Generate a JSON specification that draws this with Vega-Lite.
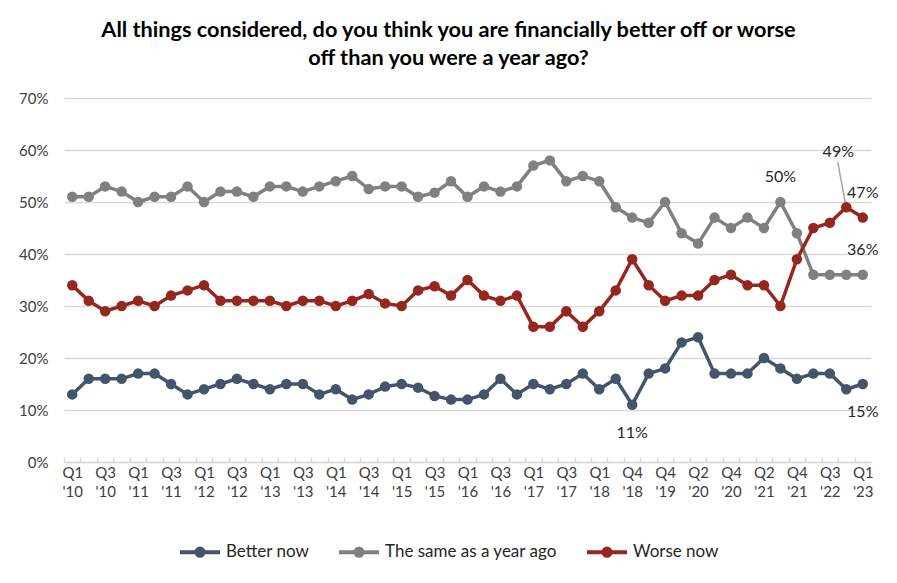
{
  "$schema": "https://vega.github.io/schema/vega-lite/v6.json",
  "autosize": {"type": "none"},
  "width": 807,
  "height": 364,
  "padding": {"left": 64, "top": 98, "right": 26, "bottom": 121},
  "background": "white",
  "config": {
    "view": {"stroke": null},
    "font": "Lato",
    "axis": {"labelFont": "Lato", "labelColor": "#404040"},
    "legend": {"labelFont": "Lato"}
  },
  "title": {
    "text": ["All things considered, do you think you are financially better off or worse", "off than you were a year ago?"],
    "font": "Lato",
    "fontSize": 21.7,
    "fontWeight": "bold",
    "color": "#000000",
    "lineHeight": 28,
    "anchor": "middle",
    "frame": "group",
    "dx": -19,
    "offset": 21
  },
  "data": {
    "values": [
      {"period": "Q1 '10", "series": "Better now", "value": 0.13},
      {"period": "Q2 '10", "series": "Better now", "value": 0.16},
      {"period": "Q3 '10", "series": "Better now", "value": 0.16},
      {"period": "Q4 '10", "series": "Better now", "value": 0.16},
      {"period": "Q1 '11", "series": "Better now", "value": 0.17},
      {"period": "Q2 '11", "series": "Better now", "value": 0.17},
      {"period": "Q3 '11", "series": "Better now", "value": 0.15},
      {"period": "Q4 '11", "series": "Better now", "value": 0.13},
      {"period": "Q1 '12", "series": "Better now", "value": 0.14},
      {"period": "Q2 '12", "series": "Better now", "value": 0.15},
      {"period": "Q3 '12", "series": "Better now", "value": 0.16},
      {"period": "Q4 '12", "series": "Better now", "value": 0.15},
      {"period": "Q1 '13", "series": "Better now", "value": 0.14},
      {"period": "Q2 '13", "series": "Better now", "value": 0.15},
      {"period": "Q3 '13", "series": "Better now", "value": 0.15},
      {"period": "Q4 '13", "series": "Better now", "value": 0.13},
      {"period": "Q1 '14", "series": "Better now", "value": 0.14},
      {"period": "Q2 '14", "series": "Better now", "value": 0.12},
      {"period": "Q3 '14", "series": "Better now", "value": 0.13},
      {"period": "Q4 '14", "series": "Better now", "value": 0.145},
      {"period": "Q1 '15", "series": "Better now", "value": 0.15},
      {"period": "Q2 '15", "series": "Better now", "value": 0.143},
      {"period": "Q3 '15", "series": "Better now", "value": 0.127},
      {"period": "Q4 '15", "series": "Better now", "value": 0.12},
      {"period": "Q1 '16", "series": "Better now", "value": 0.12},
      {"period": "Q2 '16", "series": "Better now", "value": 0.13},
      {"period": "Q3 '16", "series": "Better now", "value": 0.16},
      {"period": "Q4 '16", "series": "Better now", "value": 0.13},
      {"period": "Q1 '17", "series": "Better now", "value": 0.15},
      {"period": "Q2 '17", "series": "Better now", "value": 0.14},
      {"period": "Q3 '17", "series": "Better now", "value": 0.15},
      {"period": "Q4 '17", "series": "Better now", "value": 0.17},
      {"period": "Q1 '18", "series": "Better now", "value": 0.14},
      {"period": "Q3 '18", "series": "Better now", "value": 0.16},
      {"period": "Q4 '18", "series": "Better now", "value": 0.11},
      {"period": "Q2 '19", "series": "Better now", "value": 0.17},
      {"period": "Q4 '19", "series": "Better now", "value": 0.18},
      {"period": "Q1 '20", "series": "Better now", "value": 0.23},
      {"period": "Q2 '20", "series": "Better now", "value": 0.24},
      {"period": "Q3 '20", "series": "Better now", "value": 0.17},
      {"period": "Q4 '20", "series": "Better now", "value": 0.17},
      {"period": "Q1 '21", "series": "Better now", "value": 0.17},
      {"period": "Q2 '21", "series": "Better now", "value": 0.20},
      {"period": "Q3 '21", "series": "Better now", "value": 0.18},
      {"period": "Q4 '21", "series": "Better now", "value": 0.16},
      {"period": "Q2 '22", "series": "Better now", "value": 0.17},
      {"period": "Q3 '22", "series": "Better now", "value": 0.17},
      {"period": "Q4 '22", "series": "Better now", "value": 0.14},
      {"period": "Q1 '23", "series": "Better now", "value": 0.15},
      {"period": "Q1 '10", "series": "The same as a year ago", "value": 0.51},
      {"period": "Q2 '10", "series": "The same as a year ago", "value": 0.51},
      {"period": "Q3 '10", "series": "The same as a year ago", "value": 0.53},
      {"period": "Q4 '10", "series": "The same as a year ago", "value": 0.52},
      {"period": "Q1 '11", "series": "The same as a year ago", "value": 0.50},
      {"period": "Q2 '11", "series": "The same as a year ago", "value": 0.51},
      {"period": "Q3 '11", "series": "The same as a year ago", "value": 0.51},
      {"period": "Q4 '11", "series": "The same as a year ago", "value": 0.53},
      {"period": "Q1 '12", "series": "The same as a year ago", "value": 0.50},
      {"period": "Q2 '12", "series": "The same as a year ago", "value": 0.52},
      {"period": "Q3 '12", "series": "The same as a year ago", "value": 0.52},
      {"period": "Q4 '12", "series": "The same as a year ago", "value": 0.51},
      {"period": "Q1 '13", "series": "The same as a year ago", "value": 0.53},
      {"period": "Q2 '13", "series": "The same as a year ago", "value": 0.53},
      {"period": "Q3 '13", "series": "The same as a year ago", "value": 0.52},
      {"period": "Q4 '13", "series": "The same as a year ago", "value": 0.53},
      {"period": "Q1 '14", "series": "The same as a year ago", "value": 0.54},
      {"period": "Q2 '14", "series": "The same as a year ago", "value": 0.55},
      {"period": "Q3 '14", "series": "The same as a year ago", "value": 0.525},
      {"period": "Q4 '14", "series": "The same as a year ago", "value": 0.53},
      {"period": "Q1 '15", "series": "The same as a year ago", "value": 0.53},
      {"period": "Q2 '15", "series": "The same as a year ago", "value": 0.51},
      {"period": "Q3 '15", "series": "The same as a year ago", "value": 0.518},
      {"period": "Q4 '15", "series": "The same as a year ago", "value": 0.54},
      {"period": "Q1 '16", "series": "The same as a year ago", "value": 0.51},
      {"period": "Q2 '16", "series": "The same as a year ago", "value": 0.53},
      {"period": "Q3 '16", "series": "The same as a year ago", "value": 0.52},
      {"period": "Q4 '16", "series": "The same as a year ago", "value": 0.53},
      {"period": "Q1 '17", "series": "The same as a year ago", "value": 0.57},
      {"period": "Q2 '17", "series": "The same as a year ago", "value": 0.58},
      {"period": "Q3 '17", "series": "The same as a year ago", "value": 0.54},
      {"period": "Q4 '17", "series": "The same as a year ago", "value": 0.55},
      {"period": "Q1 '18", "series": "The same as a year ago", "value": 0.54},
      {"period": "Q3 '18", "series": "The same as a year ago", "value": 0.49},
      {"period": "Q4 '18", "series": "The same as a year ago", "value": 0.47},
      {"period": "Q2 '19", "series": "The same as a year ago", "value": 0.46},
      {"period": "Q4 '19", "series": "The same as a year ago", "value": 0.50},
      {"period": "Q1 '20", "series": "The same as a year ago", "value": 0.44},
      {"period": "Q2 '20", "series": "The same as a year ago", "value": 0.42},
      {"period": "Q3 '20", "series": "The same as a year ago", "value": 0.47},
      {"period": "Q4 '20", "series": "The same as a year ago", "value": 0.45},
      {"period": "Q1 '21", "series": "The same as a year ago", "value": 0.47},
      {"period": "Q2 '21", "series": "The same as a year ago", "value": 0.45},
      {"period": "Q3 '21", "series": "The same as a year ago", "value": 0.50},
      {"period": "Q4 '21", "series": "The same as a year ago", "value": 0.44},
      {"period": "Q2 '22", "series": "The same as a year ago", "value": 0.36},
      {"period": "Q3 '22", "series": "The same as a year ago", "value": 0.36},
      {"period": "Q4 '22", "series": "The same as a year ago", "value": 0.36},
      {"period": "Q1 '23", "series": "The same as a year ago", "value": 0.36},
      {"period": "Q1 '10", "series": "Worse now", "value": 0.34},
      {"period": "Q2 '10", "series": "Worse now", "value": 0.31},
      {"period": "Q3 '10", "series": "Worse now", "value": 0.29},
      {"period": "Q4 '10", "series": "Worse now", "value": 0.30},
      {"period": "Q1 '11", "series": "Worse now", "value": 0.31},
      {"period": "Q2 '11", "series": "Worse now", "value": 0.30},
      {"period": "Q3 '11", "series": "Worse now", "value": 0.32},
      {"period": "Q4 '11", "series": "Worse now", "value": 0.33},
      {"period": "Q1 '12", "series": "Worse now", "value": 0.34},
      {"period": "Q2 '12", "series": "Worse now", "value": 0.31},
      {"period": "Q3 '12", "series": "Worse now", "value": 0.31},
      {"period": "Q4 '12", "series": "Worse now", "value": 0.31},
      {"period": "Q1 '13", "series": "Worse now", "value": 0.31},
      {"period": "Q2 '13", "series": "Worse now", "value": 0.30},
      {"period": "Q3 '13", "series": "Worse now", "value": 0.31},
      {"period": "Q4 '13", "series": "Worse now", "value": 0.31},
      {"period": "Q1 '14", "series": "Worse now", "value": 0.30},
      {"period": "Q2 '14", "series": "Worse now", "value": 0.31},
      {"period": "Q3 '14", "series": "Worse now", "value": 0.323},
      {"period": "Q4 '14", "series": "Worse now", "value": 0.305},
      {"period": "Q1 '15", "series": "Worse now", "value": 0.30},
      {"period": "Q2 '15", "series": "Worse now", "value": 0.33},
      {"period": "Q3 '15", "series": "Worse now", "value": 0.338},
      {"period": "Q4 '15", "series": "Worse now", "value": 0.32},
      {"period": "Q1 '16", "series": "Worse now", "value": 0.35},
      {"period": "Q2 '16", "series": "Worse now", "value": 0.32},
      {"period": "Q3 '16", "series": "Worse now", "value": 0.31},
      {"period": "Q4 '16", "series": "Worse now", "value": 0.32},
      {"period": "Q1 '17", "series": "Worse now", "value": 0.26},
      {"period": "Q2 '17", "series": "Worse now", "value": 0.26},
      {"period": "Q3 '17", "series": "Worse now", "value": 0.29},
      {"period": "Q4 '17", "series": "Worse now", "value": 0.26},
      {"period": "Q1 '18", "series": "Worse now", "value": 0.29},
      {"period": "Q3 '18", "series": "Worse now", "value": 0.33},
      {"period": "Q4 '18", "series": "Worse now", "value": 0.39},
      {"period": "Q2 '19", "series": "Worse now", "value": 0.34},
      {"period": "Q4 '19", "series": "Worse now", "value": 0.31},
      {"period": "Q1 '20", "series": "Worse now", "value": 0.32},
      {"period": "Q2 '20", "series": "Worse now", "value": 0.32},
      {"period": "Q3 '20", "series": "Worse now", "value": 0.35},
      {"period": "Q4 '20", "series": "Worse now", "value": 0.36},
      {"period": "Q1 '21", "series": "Worse now", "value": 0.34},
      {"period": "Q2 '21", "series": "Worse now", "value": 0.34},
      {"period": "Q3 '21", "series": "Worse now", "value": 0.30},
      {"period": "Q4 '21", "series": "Worse now", "value": 0.39},
      {"period": "Q2 '22", "series": "Worse now", "value": 0.45},
      {"period": "Q3 '22", "series": "Worse now", "value": 0.46},
      {"period": "Q4 '22", "series": "Worse now", "value": 0.49},
      {"period": "Q1 '23", "series": "Worse now", "value": 0.47}
    ]
  },
  "encoding": {
    "x": {
      "field": "period",
      "type": "ordinal",
      "scale": {
        "type": "point",
        "padding": 0.5,
        "domain": ["Q1 '10","Q2 '10","Q3 '10","Q4 '10","Q1 '11","Q2 '11","Q3 '11","Q4 '11","Q1 '12","Q2 '12","Q3 '12","Q4 '12","Q1 '13","Q2 '13","Q3 '13","Q4 '13","Q1 '14","Q2 '14","Q3 '14","Q4 '14","Q1 '15","Q2 '15","Q3 '15","Q4 '15","Q1 '16","Q2 '16","Q3 '16","Q4 '16","Q1 '17","Q2 '17","Q3 '17","Q4 '17","Q1 '18","Q3 '18","Q4 '18","Q2 '19","Q4 '19","Q1 '20","Q2 '20","Q3 '20","Q4 '20","Q1 '21","Q2 '21","Q3 '21","Q4 '21","Q2 '22","Q3 '22","Q4 '22","Q1 '23"]
      },
      "axis": {
        "title": null,
        "labelAngle": 0,
        "labelOverlap": false,
        "labelExpr": "indexof([\"Q1 '10\",\"Q3 '10\",\"Q1 '11\",\"Q3 '11\",\"Q1 '12\",\"Q3 '12\",\"Q1 '13\",\"Q3 '13\",\"Q1 '14\",\"Q3 '14\",\"Q1 '15\",\"Q3 '15\",\"Q1 '16\",\"Q3 '16\",\"Q1 '17\",\"Q3 '17\",\"Q1 '18\",\"Q4 '18\",\"Q4 '19\",\"Q2 '20\",\"Q4 '20\",\"Q2 '21\",\"Q4 '21\",\"Q3 '22\",\"Q1 '23\"], datum.value) >= 0 ? split(datum.value, ' ') : ''",
        "domainColor": "#D9D9D9",
        "domainWidth": 1.5,
        "tickColor": "#D9D9D9",
        "tickWidth": 1.5,
        "tickSize": -5,
        "tickOffset": -8.235,
        "labelOffset": 8.235,
        "labelFontSize": 15,
        "labelColor": "#404040",
        "labelPadding": 8,
        "labelLineHeight": 19,
        "labelBaseline": "top",
        "grid": false
      }
    },
    "y": {
      "field": "value",
      "type": "quantitative",
      "scale": {"domain": [0, 0.7], "nice": false},
      "axis": {
        "title": null,
        "format": ".0%",
        "values": [0, 0.1, 0.2, 0.3, 0.4, 0.5, 0.6, 0.7],
        "domain": false,
        "ticks": false,
        "gridColor": "#D9D9D9",
        "gridWidth": 1.5,
        "labelFontSize": 15,
        "labelPadding": 16,
        "labelColor": "#404040"
      }
    }
  },
  "layer": [
    {
      "mark": {"type": "line", "strokeWidth": 3.5},
      "encoding": {
        "color": {
          "field": "series",
          "type": "nominal",
          "scale": {
            "domain": ["Better now", "The same as a year ago", "Worse now"],
            "range": ["#44546A", "#808080", "#95271F"]
          },
          "legend": {
            "title": null,
            "orient": "none",
            "direction": "horizontal",
            "legendX": 114,
            "legendY": 432,
            "padding": 0,
            "symbolType": "M-1,0L1,0M0.18,0A0.18,0.18,0,1,1,-0.18,0A0.18,0.18,0,1,1,0.18,0Z",
            "symbolSize": 1600,
            "symbolStrokeWidth": 4,
            "labelFontSize": 17,
            "labelLimit": 400,
            "labelColor": "#262626",
            "labelOffset": 4,
            "columnPadding": 21,
            "encode": {
              "symbols": {
                "update": {
                  "fill": {"scale": "color", "field": "value"},
                  "stroke": {"scale": "color", "field": "value"},
                  "opacity": {"value": 1}
                }
              }
            }
          }
        }
      }
    },
    {
      "transform": [{"filter": "datum.period == \"Q4 '22\" && datum.series == 'Worse now'"}],
      "mark": {"type": "rule", "color": "#A6A6A6", "strokeWidth": 1.5, "xOffset": -8.5, "x2Offset": -1, "yOffset": -45, "y2Offset": -4},
      "encoding": {
        "x2": {"field": "period"},
        "y2": {"field": "value"}
      }
    },
    {
      "mark": {"type": "point", "filled": true, "size": 110, "opacity": 1},
      "encoding": {
        "color": {"field": "series", "type": "nominal", "legend": null}
      }
    },
    {
      "transform": [{"filter": "(datum.period == \"Q3 '21\" && datum.series == 'The same as a year ago') || (datum.period == \"Q1 '23\" && datum.series != 'Better now')"}],
      "mark": {"type": "text", "fontSize": 16, "color": "#262626", "dy": -25, "baseline": "middle", "font": "Lato"},
      "encoding": {"text": {"field": "value", "format": ".0%"}}
    },
    {
      "transform": [{"filter": "datum.period == \"Q4 '22\" && datum.series == 'Worse now'"}],
      "mark": {"type": "text", "fontSize": 16, "color": "#262626", "dy": -55, "dx": -8, "baseline": "middle", "font": "Lato"},
      "encoding": {"text": {"field": "value", "format": ".0%"}}
    },
    {
      "transform": [{"filter": "(datum.period == \"Q4 '18\" || datum.period == \"Q1 '23\") && datum.series == 'Better now'"}],
      "mark": {"type": "text", "fontSize": 16, "color": "#262626", "dy": 28, "baseline": "middle", "font": "Lato"},
      "encoding": {"text": {"field": "value", "format": ".0%"}}
    }
  ]
}
